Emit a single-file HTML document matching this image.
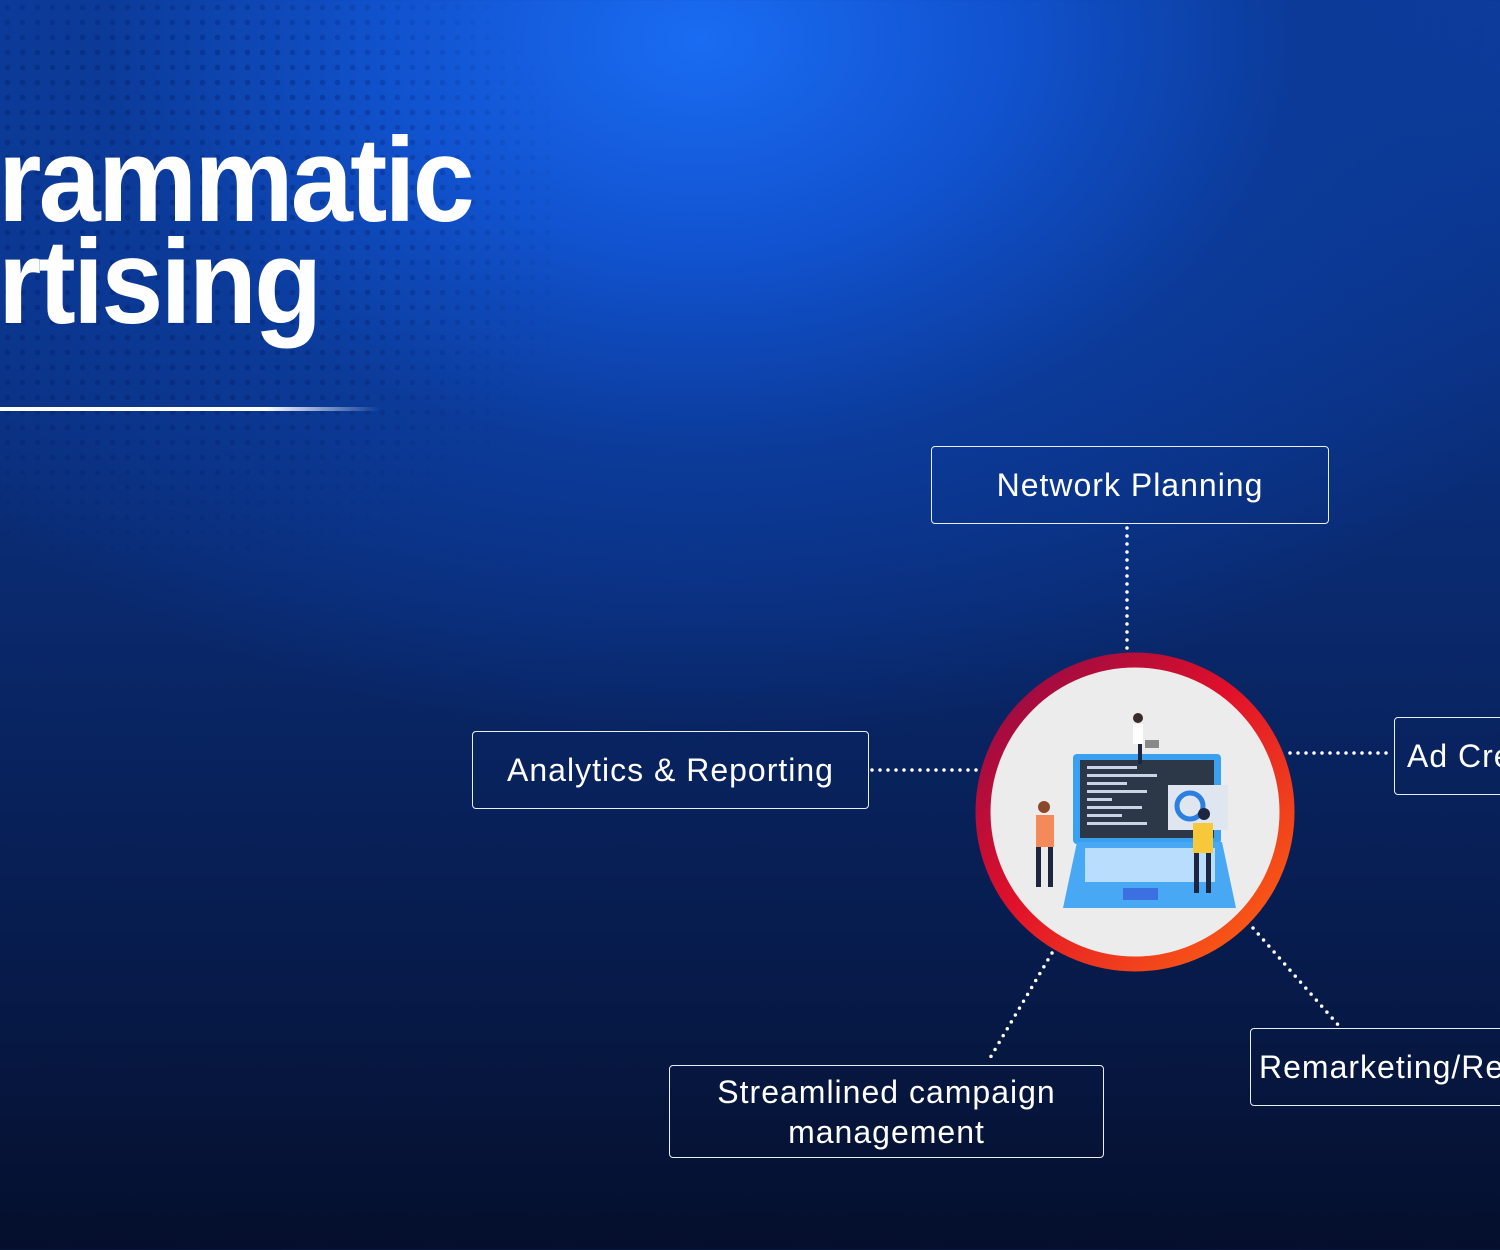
<!DOCTYPE html>
<html><head><meta charset="utf-8"><style>
html,body{margin:0;padding:0}
body{width:1500px;height:1250px;overflow:hidden;position:relative;font-family:"Liberation Sans",sans-serif;
background:radial-gradient(ellipse 1000px 700px at 700px 40px,#1a6cf2 0%,#1153d0 30%,#0b3a98 60%,rgba(8,30,80,0) 100%),linear-gradient(180deg,#0c3da0 0%,#0a2a70 45%,#071c4e 75%,#050f2c 100%);}
.dots{position:absolute;left:0;top:0;width:560px;height:560px;
background-image:radial-gradient(circle,rgba(0,25,100,.3) 2.5px,transparent 3px);background-size:15px 15px;
-webkit-mask-image:radial-gradient(ellipse at 30% 40%,#000 40%,transparent 75%);mask-image:radial-gradient(ellipse at 30% 40%,#000 40%,transparent 75%);}
.t{position:absolute;left:-2px;color:#fff;font-weight:bold;font-size:120px;letter-spacing:-3px;transform:scaleX(.93);transform-origin:left top;white-space:nowrap;line-height:1}
.rule{position:absolute;left:0;top:407px;width:380px;height:4px;background:linear-gradient(90deg,#fff 70%,rgba(255,255,255,0));}
.box{position:absolute;border:1.5px solid #e8eefc;border-radius:4px;color:#fff;font-size:32px;letter-spacing:1px;display:flex;align-items:center;justify-content:center;text-align:center;line-height:40px;box-sizing:border-box;white-space:nowrap;overflow:hidden}
</style></head><body>
<div class="dots"></div>
<div class="t" style="top:120px">rammatic</div>
<div class="t" style="top:222px">rtising</div>
<div class="rule"></div>

<svg width="1500" height="1250" style="position:absolute;left:0;top:0">
<defs><linearGradient id="rg" x1="0" y1="0" x2="1" y2="1">
<stop offset="0" stop-color="#8a0a4a"/><stop offset=".45" stop-color="#e0102a"/><stop offset="1" stop-color="#ff6a10"/></linearGradient></defs>
<g stroke="#fff" stroke-width="3.5" stroke-linecap="round" stroke-dasharray="0 8" fill="none">
<line x1="1127" y1="528" x2="1127" y2="650"/>
<line x1="872" y1="770" x2="978" y2="770"/>
<line x1="1290" y1="753" x2="1392" y2="753"/>
<line x1="1052" y1="953" x2="990" y2="1058"/>
<line x1="1253" y1="928" x2="1340" y2="1027"/>
</g>
<circle cx="1135" cy="812" r="152" fill="#ececec" stroke="url(#rg)" stroke-width="15"/>
<rect x="1073" y="754" width="148" height="90" rx="4" fill="#3aa0f0"/>
<rect x="1080" y="760" width="134" height="78" fill="#2c3848"/>
<g fill="#c8d4e8"><rect x="1087" y="766" width="50" height="3"/><rect x="1087" y="774" width="70" height="3"/><rect x="1087" y="782" width="40" height="3"/><rect x="1087" y="790" width="60" height="3"/><rect x="1087" y="798" width="25" height="3"/><rect x="1087" y="806" width="55" height="3"/><rect x="1087" y="814" width="35" height="3"/><rect x="1087" y="822" width="60" height="3"/></g>
<rect x="1168" y="785" width="60" height="45" fill="#dfe6ef"/>
<circle cx="1190" cy="806" r="13" fill="none" stroke="#2a7fe0" stroke-width="5"/>
<path d="M1063 908 L1077 842 L1222 842 L1236 908 Z" fill="#48a8f4"/>
<rect x="1085" y="848" width="130" height="34" fill="#eaf4ff" opacity=".7"/>
<rect x="1123" y="888" width="35" height="12" fill="#3c6fe0"/>
<rect x="1036" y="815" width="18" height="32" fill="#f48a5a"/><circle cx="1044" cy="807" r="6" fill="#8a4a2a"/>
<rect x="1036" y="847" width="5" height="40" fill="#1d2540"/><rect x="1048" y="847" width="5" height="40" fill="#1d2540"/>
<rect x="1193" y="823" width="20" height="30" fill="#f6c83a"/><circle cx="1204" cy="814" r="6" fill="#1d2540"/>
<rect x="1194" y="853" width="5" height="40" fill="#1d2540"/><rect x="1206" y="853" width="5" height="40" fill="#1d2540"/>
<circle cx="1138" cy="718" r="5" fill="#3a2a2a"/><rect x="1133" y="724" width="10" height="20" fill="#fff"/>
<rect x="1138" y="744" width="4" height="20" fill="#1d2540"/><rect x="1145" y="740" width="14" height="8" fill="#888"/>
</svg>

<div class="box" style="left:931px;top:446px;width:398px;height:78px">Network Planning</div>
<div class="box" style="left:472px;top:731px;width:397px;height:78px">Analytics &amp; Reporting</div>
<div class="box" style="left:1394px;top:717px;width:130px;height:78px;justify-content:flex-start;padding-left:12px">Ad Creation</div>
<div class="box" style="left:669px;top:1065px;width:435px;height:93px">Streamlined campaign<br>management</div>
<div class="box" style="left:1250px;top:1028px;width:280px;height:78px;justify-content:flex-start;padding-left:8px">Remarketing/Retargeting</div>
</body></html>
